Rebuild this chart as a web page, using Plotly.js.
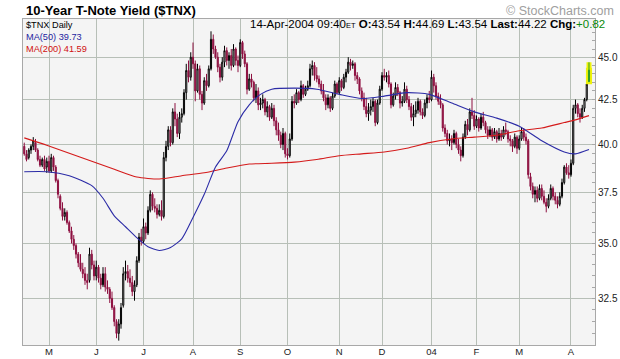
<!DOCTYPE html>
<html><head><meta charset="utf-8">
<script src="https://cdn.plot.ly/plotly-3.0.1.min.js"></script>
<style>html,body{margin:0;padding:0;background:#fff;}#chart{width:620px;height:359px;}</style>
</head><body><div id="chart"></div>
<script>
// Trading calendar (weekdays minus market holidays)
const firstDay = '2003-04-15';
const lastDay = '2004-04-14';
const holidays = ['2003-04-18','2003-05-26','2003-07-04','2003-09-01','2003-11-27','2003-12-25','2004-01-01','2004-01-19','2004-02-16','2004-04-09'];

// Month tick labels
const monthTickDates = ['2003-05-01','2003-06-02','2003-07-01','2003-08-01','2003-09-02','2003-10-01','2003-11-03','2003-12-01','2004-01-02','2004-02-02','2004-03-01','2004-04-01'];
const monthTickLabels = ['M','J','J','A','S','O','N','D','04','F','M','A'];

// Price-axis labels
const yTickVals = [32.5,35,37.5,40,42.5,45];
const yTickText = ['32.5','35.0','37.5','40.0','42.5','45.0'];
const yMinorVals = [31,31.5,32,32.5,33,33.5,34,34.5,35,35.5,36,36.5,37,37.5,38,38.5,39,39.5,40,40.5,41,41.5,42,42.5,43,43.5,44,44.5,45,45.5,46,46.5,47];

// Daily OHLC of $TNX (yield x10)
const openV = [
39.9,39.5,39.3,39.7,39.9,40.1,39.7,39.2,38.9,39.2,
38.8,39.1,38.6,39.3,38.8,38.1,37.3,36.7,36.3,36.5,
36.0,35.6,35.2,34.9,34.5,34.1,33.8,33.6,33.3,33.3,
34.5,34.0,33.5,33.9,33.4,33.1,33.6,33.0,32.9,32.5,
32.1,31.5,31.0,31.4,32.2,33.6,33.7,33.4,33.2,32.8,
33.1,34.2,35.3,35.1,35.8,35.5,36.6,37.4,36.8,36.7,
36.4,36.6,36.3,39.3,39.9,40.8,40.1,41.8,41.4,40.6,
41.5,41.7,42.9,44.2,43.8,45.0,44.6,43.0,44.3,42.8,
42.3,43.6,43.3,44.3,46.1,45.5,45.0,44.4,43.8,44.7,
45.4,44.8,45.1,44.5,45.5,44.8,44.5,45.9,45.2,44.6,
43.1,43.7,43.5,42.6,43.0,42.2,42.3,42.5,41.8,42.1,
41.5,42.0,41.3,40.8,40.5,40.0,40.6,39.5,39.4,40.3,
42.4,42.3,42.9,42.5,43.3,42.8,43.1,43.3,44.3,44.5,
43.9,43.7,43.4,43.0,42.6,42.2,42.6,42.0,42.7,43.4,
42.9,43.6,43.2,43.8,44.1,44.7,44.5,44.6,43.9,43.7,
43.0,42.6,42.1,41.7,41.9,42.1,42.4,41.2,42.3,43.1,
43.9,43.8,43.9,43.4,42.2,42.7,43.2,42.9,42.3,42.4,
43.1,42.5,42.1,41.5,41.7,41.9,42.4,41.8,41.6,42.3,
42.6,42.5,43.8,43.3,42.7,42.4,42.2,40.9,40.6,40.2,
40.3,40.1,40.6,40.0,39.7,39.4,40.4,41.1,40.8,41.8,
41.6,41.0,41.4,40.9,41.5,41.2,40.8,40.5,40.8,40.4,
40.7,40.3,40.6,40.4,40.8,40.7,40.3,40.2,39.9,40.4,
39.8,40.3,40.7,40.4,40.2,38.3,37.8,37.4,37.6,37.2,
37.7,37.3,37.0,36.8,37.2,37.7,37.3,37.1,36.9,37.3,
38.0,38.8,38.5,38.4,39.0,42.0,42.2,41.7,41.5,42.0,
42.5,43.54];
const highV = [
40.1,39.7,39.8,40.0,40.4,40.3,39.8,39.4,39.3,39.4,
39.3,39.4,39.5,39.4,38.9,38.2,37.4,37.0,36.7,36.6,
36.1,35.8,35.4,35.0,34.6,34.5,34.1,33.9,33.6,34.8,
34.7,34.2,34.2,34.0,33.6,33.9,33.9,33.3,33.0,32.8,
32.2,31.6,31.6,32.3,33.9,34.2,34.0,33.8,33.5,33.3,
34.4,35.5,35.7,36.2,36.0,36.8,37.6,37.5,37.2,36.9,
36.9,37.1,39.6,40.2,41.0,41.0,42.0,42.3,41.7,41.8,
42.0,43.1,44.6,44.8,45.3,45.9,44.8,44.6,44.5,43.0,
43.8,44.0,44.5,46.6,46.4,45.7,45.3,44.6,45.0,45.7,
45.6,45.3,45.5,45.8,45.6,45.1,46.1,46.0,45.4,44.7,
44.0,44.0,43.6,43.4,43.2,42.6,42.8,42.6,42.4,42.2,
42.3,42.2,41.5,41.2,40.7,40.9,40.7,39.8,40.6,42.7,
42.8,43.1,43.0,43.6,43.4,43.3,43.6,44.6,44.8,44.7,
44.4,43.9,43.6,43.4,42.8,42.8,42.7,42.9,43.6,43.5,
43.8,43.7,44.0,44.3,45.0,44.9,44.8,44.7,44.1,43.8,
43.2,42.9,42.6,42.3,42.5,42.6,42.5,42.5,43.3,44.1,
44.3,44.1,44.2,43.5,42.9,43.5,43.4,43.0,42.7,43.5,
43.3,42.7,42.3,42.2,42.4,42.6,42.5,42.0,42.5,42.8,
43.0,44.2,44.0,43.5,42.9,42.8,42.3,41.1,40.8,40.6,
40.5,40.8,40.7,40.3,39.9,40.6,41.3,41.4,42.0,42.6,
41.9,41.6,41.5,41.7,41.8,41.3,41.0,41.0,40.9,40.9,
40.8,40.9,40.8,41.0,41.2,40.8,40.5,40.3,40.6,40.5,
40.5,40.9,40.9,40.6,40.3,38.5,38.0,37.8,37.8,37.9,
37.9,37.6,37.2,37.4,37.9,37.8,37.5,37.3,37.5,38.2,
38.9,39.0,38.9,39.2,42.2,42.5,42.3,42.0,42.2,42.6,
43.5,44.69];
const lowV = [
39.4,39.1,39.2,39.5,39.7,39.6,39.1,38.8,38.8,38.6,
38.5,38.5,38.5,38.6,38.0,37.2,36.6,36.1,36.1,35.9,
35.5,35.0,34.7,34.3,33.9,33.7,33.4,33.1,32.9,33.2,
33.8,33.3,33.3,33.2,32.9,33.0,32.8,32.7,32.3,32.0,
31.3,30.8,30.7,31.2,32.1,33.3,33.2,33.0,32.6,32.4,
33.0,34.1,34.9,35.0,35.2,35.4,36.5,36.6,36.5,36.2,
36.3,36.1,36.2,39.1,39.7,39.9,40.0,41.0,40.4,40.3,
41.2,41.6,42.5,43.5,43.6,44.3,42.4,42.9,42.5,41.9,
42.2,43.0,43.2,44.2,45.2,44.9,44.1,43.5,43.6,44.4,
44.5,44.3,44.2,44.4,44.5,44.1,44.4,44.9,44.4,42.8,
43.0,43.2,42.4,42.3,41.9,41.9,42.0,41.6,41.5,41.3,
41.4,41.0,40.5,40.2,39.8,39.7,39.3,39.2,39.3,40.2,
42.0,42.2,42.3,42.4,42.6,42.7,43.0,43.2,43.9,43.6,
43.5,43.2,42.8,42.4,41.9,42.0,41.8,41.9,42.6,42.8,
42.8,43.0,43.1,43.5,44.0,44.2,44.3,43.6,43.4,42.8,
42.4,41.9,41.5,41.3,41.6,41.8,41.0,41.1,42.2,43.0,
43.6,43.5,43.2,42.0,42.1,42.5,42.7,42.0,42.1,42.3,
42.3,41.9,41.3,41.0,41.5,41.7,41.6,41.4,41.5,42.0,
42.3,42.4,42.9,42.5,42.2,42.0,40.7,40.4,40.0,39.9,
39.7,40.0,39.8,39.5,39.1,39.3,40.3,40.5,40.7,41.4,
40.8,40.9,40.7,40.8,41.0,40.6,40.3,40.4,40.2,40.3,
40.1,40.2,40.2,40.3,40.5,40.1,39.9,39.6,39.8,39.5,
39.7,40.2,40.2,40.0,38.2,37.6,37.2,37.0,37.0,37.1,
37.1,36.9,36.5,36.7,37.1,37.1,36.9,36.7,36.8,37.2,
37.9,38.4,38.2,38.3,38.9,41.7,41.5,41.2,41.4,41.8,
42.4,43.54];
const closeV = [
39.5,39.2,39.7,39.9,40.2,39.7,39.2,38.9,39.2,38.7,
39.1,38.6,39.3,38.8,38.1,37.4,36.7,36.3,36.5,36.0,
35.6,35.2,34.9,34.5,34.1,33.8,33.6,33.3,33.2,34.5,
34.0,33.5,33.9,33.4,33.1,33.6,33.0,32.9,32.5,32.1,
31.5,31.0,31.4,32.1,33.6,33.7,33.4,33.2,32.8,33.1,
34.2,35.3,35.1,35.8,35.5,36.6,37.4,36.8,36.7,36.4,
36.6,36.3,39.3,39.9,40.8,40.1,41.8,41.4,40.6,41.5,
41.7,42.9,44.2,43.8,45.0,44.6,43.0,44.3,42.8,42.3,
43.6,43.3,44.3,46.1,45.5,45.0,44.4,43.8,44.7,45.4,
44.8,45.1,44.5,45.5,44.8,44.5,45.9,45.2,44.6,43.1,
43.7,43.5,42.6,43.0,42.2,42.3,42.5,41.8,42.1,41.5,
42.0,41.3,40.8,40.5,40.0,40.6,39.5,39.4,40.3,42.4,
42.3,42.9,42.5,43.3,42.8,43.1,43.3,44.3,44.5,43.9,
43.7,43.4,43.0,42.6,42.2,42.6,42.0,42.7,43.4,42.9,
43.6,43.2,43.8,44.1,44.7,44.5,44.6,43.9,43.7,43.0,
42.6,42.1,41.7,41.9,42.1,42.4,41.2,42.3,43.1,43.9,
43.8,43.9,43.4,42.2,42.7,43.2,42.9,42.3,42.4,43.1,
42.5,42.1,41.5,41.7,41.9,42.4,41.8,41.6,42.3,42.6,
42.5,43.8,43.3,42.7,42.4,42.2,40.9,40.6,40.2,40.3,
40.1,40.6,40.0,39.7,39.4,40.4,41.1,40.8,41.8,41.6,
41.0,41.4,40.9,41.5,41.2,40.8,40.5,40.8,40.4,40.7,
40.3,40.6,40.4,40.8,40.7,40.3,40.2,39.9,40.4,39.8,
40.3,40.7,40.4,40.2,38.4,37.8,37.4,37.6,37.2,37.7,
37.3,37.0,36.8,37.2,37.7,37.3,37.1,36.9,37.3,38.0,
38.8,38.5,38.4,39.0,42.0,42.2,41.7,41.5,42.0,42.5,
43.4,44.22];

// Moving averages read at sampled trading days (day index into calendar)
const ma50Day = [0,10,20,30,35,40,45,50,55,60,65,70,75,80,85,90,95,100,105,110,120,130,140,150,160,170,180,190,200,210,220,230,240,245,251];
const ma50 = [38.56,38.56,38.35,37.84,37.2,36.33,35.8,35.28,34.85,34.67,34.81,35.22,36.25,37.4,38.8,39.66,41.25,42.2,42.8,43.1,43.16,43.1,42.8,42.56,42.7,42.9,42.8,42.3,41.8,41.45,41.0,40.2,39.6,39.5,39.73];
const ma200Day = [0,10,20,30,40,50,60,70,80,90,100,110,120,130,140,150,160,170,180,190,200,210,220,230,240,245,251];
const ma200 = [40.36,39.96,39.53,39.11,38.69,38.28,38.18,38.35,38.5,38.75,38.96,39.0,39.06,39.2,39.4,39.5,39.6,39.8,40.1,40.3,40.4,40.5,40.75,40.9,41.2,41.35,41.59];

// build trading dates
function tradingDays(a, b, hol) {
  const out = []; const d = new Date(a + 'T12:00:00Z'); const end = new Date(b + 'T12:00:00Z');
  while (d <= end) {
    const wd = d.getUTCDay(); const s = d.toISOString().slice(0,10);
    if (wd !== 0 && wd !== 6 && hol.indexOf(s) < 0) out.push(s);
    d.setUTCDate(d.getUTCDate() + 1);
  }
  return out;
}
const dates = tradingDays(firstDay, lastDay, holidays);
if (dates.length !== closeV.length || openV.length !== closeV.length || highV.length !== closeV.length || lowV.length !== closeV.length) {
  throw new Error('length mismatch ' + dates.length + ' ' + openV.length + ' ' + highV.length + ' ' + lowV.length + ' ' + closeV.length);
}
const n = dates.length;
const last = n - 1;
const CRIMSON = '#8e1040';

const traces = [
  {type:'candlestick', x:dates.slice(0,last), open:openV.slice(0,last), high:highV.slice(0,last), low:lowV.slice(0,last), close:closeV.slice(0,last),
   increasing:{line:{color:'#000000', width:1}, fillcolor:'#f4f4f4'},
   decreasing:{line:{color:CRIMSON, width:1}, fillcolor:CRIMSON},
   whiskerwidth:0, hoverinfo:'skip', showlegend:false},
  {type:'scatter', mode:'lines', x:ma200Day.map(i=>dates[i]), y:ma200, line:{color:'#d41a1a', width:1.1, shape:'spline', smoothing:0.6}, hoverinfo:'skip', showlegend:false},
  {type:'scatter', mode:'lines', x:ma50Day.map(i=>dates[i]), y:ma50, line:{color:'#2b2ba6', width:1.1, shape:'spline', smoothing:0.6}, hoverinfo:'skip', showlegend:false},
  {type:'candlestick', x:[dates[last]], open:[openV[last]], high:[highV[last]], low:[lowV[last]], close:[closeV[last]],
   increasing:{line:{color:'#eef20a', width:5}, fillcolor:'#eef20a'}, decreasing:{line:{color:'#eef20a', width:5}, fillcolor:'#eef20a'},
   whiskerwidth:0, hoverinfo:'skip', showlegend:false},
  {type:'candlestick', x:[dates[last]], open:[openV[last]], high:[highV[last]], low:[lowV[last]], close:[closeV[last]],
   increasing:{line:{color:'#2a9a2a', width:1}, fillcolor:'#2a9a2a'}, decreasing:{line:{color:'#2a9a2a', width:1}, fillcolor:'#2a9a2a'},
   whiskerwidth:0, hoverinfo:'skip', showlegend:false}
];

const L = 23, R = 595, T = 19, B = 345;
const px = x => (x - L) / (R - L);
const py = y => (B - y) / (B - T);
const FONT = 'Liberation Sans, Arial, sans-serif';

const layout = {
  width:620, height:359,
  margin:{l:L, r:620-R, t:T, b:359-B, pad:0},
  paper_bgcolor:'#ffffff', plot_bgcolor:'#f4f4f4',
  showlegend:false,
  font:{family:FONT, size:10, color:'#222'},
  xaxis:{type:'category', range:[-0.56, 253.67], tickmode:'array', tickvals:monthTickDates, ticktext:monthTickLabels,
    showgrid:true, gridcolor:'#b7bfb7', gridwidth:1, ticks:'', ticklabelstandoff:-2,
    showline:true, linecolor:'#a8a8a8', linewidth:1, mirror:true, rangeslider:{visible:false},
    tickfont:{family:FONT, size:9.5, color:'#222'}, fixedrange:true},
  yaxis:{type:'log', side:'right', range:[Math.log10(30.52), Math.log10(47.38)], tickmode:'array', tickvals:yTickVals, ticktext:yTickText,
    showgrid:true, gridcolor:'#b7bfb7', gridwidth:1, ticks:'', showline:true, linecolor:'#a8a8a8', mirror:true, zeroline:false,
    minor:{tickmode:'array', tickvals:yMinorVals, ticks:'inside', ticklen:3, tickcolor:'#a8a8a8', showgrid:false},
    tickfont:{family:FONT, size:10, color:'#222'}, fixedrange:true},
  yaxis2:{type:'log', overlaying:'y', side:'left', range:[Math.log10(30.52), Math.log10(47.38)], tickmode:'array', tickvals:yMinorVals,
    ticks:'inside', ticklen:3, tickcolor:'#a8a8a8', showticklabels:false, showgrid:false, zeroline:false, showline:false, fixedrange:true},
  annotations:[
    {xref:'paper', yref:'paper', x:px(24), y:py(11), xanchor:'left', yanchor:'middle', showarrow:false,
     text:'<b>10-Year T-Note Yield ($TNX)</b>', font:{family:FONT, size:13, color:'#000'}},
    {xref:'paper', yref:'paper', x:px(616), y:py(11), xanchor:'right', yanchor:'middle', showarrow:false,
     text:'© StockCharts.com', font:{family:FONT, size:12.5, color:'#a0a0a0'}},
    {xref:'paper', yref:'paper', x:px(24), y:py(18), xanchor:'left', yanchor:'top', align:'left', showarrow:false,
     text:'$TNX Daily<br><span style="color:#2424a0">MA(50) 39.73</span><br><span style="color:#d01010">MA(200) 41.59</span>',
     font:{family:FONT, size:9.2, color:'#000'}},
    {xref:'paper', yref:'paper', x:px(607), y:py(24), xanchor:'right', yanchor:'middle', showarrow:false,
     text:'14-Apr-2004 09:40<span style="font-size:7.5px">ET</span> <b>O:</b>43.54 <b>H:</b>44.69 <b>L:</b>43.54 <b>Last:</b>44.22 <b>Chg:</b><span style="color:#0a8a0a">+0.82</span>',
     font:{family:FONT, size:11.5, color:'#000'}}
  ]
};

Plotly.newPlot('chart', traces, layout, {staticPlot:true, displayModeBar:false});
</script></body></html>
